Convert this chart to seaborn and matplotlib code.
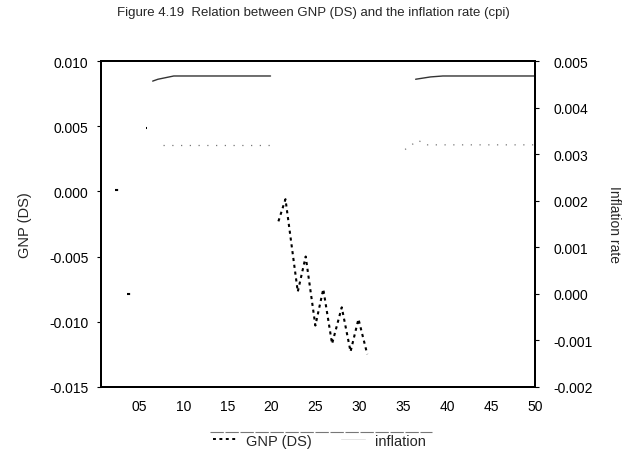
import numpy as np
import pandas as pd
import matplotlib
matplotlib.use("Agg")
import matplotlib.pyplot as plt
from matplotlib.lines import Line2D
from matplotlib.ticker import FuncFormatter
import seaborn as sns

# ---- data ----
# GNP (DS), left axis; segments separated by NaN (scan shows only fragments)
gnp_obs = [2.2, 2.8, np.nan, 3.6, 4.0, np.nan, 5.7, 5.9, np.nan,
           20.8, 21.6, 23.0, 23.9, 25.0, 25.9, 26.9, 28.0, 29.0, 29.9, 30.9]
gnp_val = [0.0001, 0.0001, np.nan, -0.0079, -0.0079, np.nan, 0.0049, 0.0049, np.nan,
           -0.0023, -0.0006, -0.0077, -0.0050, -0.0103, -0.0075, -0.0117,
           -0.0089, -0.0123, -0.0098, -0.0125]

# inflation, right axis (faint solid line at the top)
infl_obs = [6.5, 7.1, 8.9, 19.9, np.nan, 36.4, 38.1, 39.5, 50.0]
infl_val = [0.00457, 0.00461, 0.00468, 0.00468, np.nan, 0.00461, 0.00466, 0.00468, 0.00468]

# faint dotted trace, right axis
dot_obs = [7.7, 20.5, np.nan, 35.2, 36.7, 37.5, 50.0]
dot_val = [0.0032, 0.0032, np.nan, 0.0031, 0.0033, 0.0032, 0.0032]

x_ticks = [5, 10, 15, 20, 25, 30, 35, 40, 45, 50]
left_ticks = [-0.015, -0.010, -0.005, 0.000, 0.005, 0.010]
right_ticks = [-0.002, -0.001, 0.000, 0.001, 0.002, 0.003, 0.004, 0.005]


def to_df(xs, ys):
    seg, s = [], 0
    for x in xs:
        if np.isnan(x):
            s += 1
        seg.append(s)
    df = pd.DataFrame({"obs": xs, "val": ys, "seg": seg})
    return df.dropna()


def fmt3(v, p):
    return "0.000" if abs(v) < 1e-12 else "%.3f" % v


sns.set_theme(style="white")
plt.rcParams["font.family"] = ["Liberation Sans", "DejaVu Sans"]

fig = plt.figure(figsize=(6.26, 4.60), dpi=100)
ax = fig.add_axes([0.161, 0.157, 0.694, 0.708])
ax2 = ax.twinx()

sns.lineplot(data=to_df(gnp_obs, gnp_val), x="obs", y="val", units="seg",
             estimator=None, ax=ax, color="black", lw=1.5,
             linestyle=(0, (1.5, 1.8)), legend=False)
sns.lineplot(data=to_df(infl_obs, infl_val), x="obs", y="val", units="seg",
             estimator=None, ax=ax2, color="#333333", lw=1.0, legend=False)
sns.lineplot(data=to_df(dot_obs, dot_val), x="obs", y="val", units="seg",
             estimator=None, ax=ax2, color="#777777", lw=0.9,
             linestyle=(0, (1, 6)), legend=False)

ax.set_xlim(0.6, 50)
ax.set_ylim(-0.015, 0.010)
ax2.set_ylim(-0.002, 0.005)
ax.set_xticks(x_ticks)
ax.xaxis.set_major_formatter(FuncFormatter(lambda v, p: "%02d" % int(round(v))))
ax.set_yticks(left_ticks)
ax.yaxis.set_major_formatter(FuncFormatter(fmt3))
ax2.set_yticks(right_ticks)
ax2.yaxis.set_major_formatter(FuncFormatter(fmt3))

for a in (ax, ax2):
    for sp in a.spines.values():
        sp.set_color("black")
        sp.set_linewidth(1.4)
    a.tick_params(axis="both", labelsize=10, colors="black", length=3, width=0.8,
                  direction="out")
ax.tick_params(axis="y", left=True, pad=6)
ax.tick_params(axis="x", bottom=False, pad=6)
ax2.tick_params(axis="y", right=True, pad=10)

ax.set_xlabel("")
ax.set_ylabel("GNP (DS)", fontsize=10.5, labelpad=12)
ax2.set_ylabel("Inflation rate", fontsize=10, rotation=270, labelpad=20)

fig.suptitle("Figure 4.19  Relation between GNP (DS) and the inflation rate (cpi)",
             fontsize=9.5, y=0.985, x=0.5)

handles = [Line2D([], [], color="black", lw=1.4, linestyle=(0, (1.5, 1.8))),
           Line2D([], [], color="#e0e0e0", lw=0.6)]
fig.legend(handles, ["GNP (DS)", "inflation"], loc="center",
           bbox_to_anchor=(0.51, 0.040), ncol=2, frameon=False,
           fontsize=10.5, handlelength=1.6, columnspacing=2.0, handletextpad=0.7)
fig.add_artist(Line2D([0.335, 0.69], [0.058, 0.058], transform=fig.transFigure,
                      color="#777777", lw=0.8, linestyle=(0, (12, 1.5))))

fig.savefig("out.png", dpi=100)
